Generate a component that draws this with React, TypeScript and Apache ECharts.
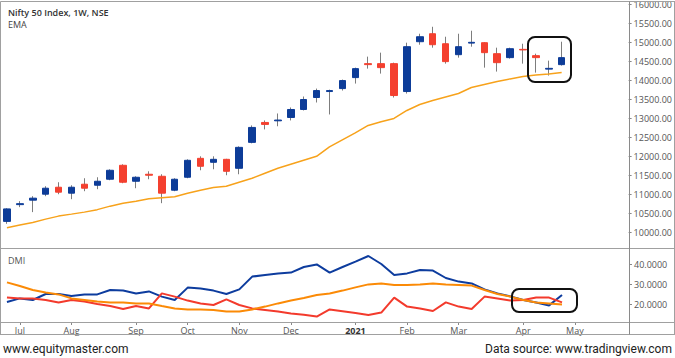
import React, { useEffect, useRef } from "react";
import * as echarts from "echarts";

// Weekly bars (week start dates); the last five slots are empty space to the right
const weeks = [
  "2020-06-29", "2020-07-06", "2020-07-13", "2020-07-20", "2020-07-27",
  "2020-08-03", "2020-08-10", "2020-08-17", "2020-08-24", "2020-08-31",
  "2020-09-07", "2020-09-14", "2020-09-21", "2020-09-28", "2020-10-05",
  "2020-10-12", "2020-10-19", "2020-10-26", "2020-11-02", "2020-11-09",
  "2020-11-16", "2020-11-23", "2020-11-30", "2020-12-07", "2020-12-14",
  "2020-12-21", "2020-12-28", "2021-01-04", "2021-01-11", "2021-01-18",
  "2021-01-25", "2021-02-01", "2021-02-08", "2021-02-15", "2021-02-22",
  "2021-03-01", "2021-03-08", "2021-03-15", "2021-03-22", "2021-03-29",
  "2021-04-05", "2021-04-12", "2021-04-19", "2021-04-26",
  "2021-05-03", "2021-05-10", "2021-05-17", "2021-05-24", "2021-05-31",
];

// [open, close, low, high]
const candles: [number, number, number, number][] = [
  [10294, 10622, 10230, 10640],
  [10735, 10760, 10669, 10826],
  [10852, 10905, 10538, 10957],
  [11009, 11167, 10957, 11219],
  [11193, 11062, 11009, 11324],
  [11036, 11193, 10878, 11245],
  [11272, 11167, 11088, 11429],
  [11245, 11350, 11141, 11455],
  [11403, 11639, 11377, 11665],
  [11770, 11324, 11298, 11796],
  [11350, 11455, 11167, 11481],
  [11534, 11508, 11403, 11612],
  [11481, 11036, 10773, 11534],
  [11114, 11403, 11088, 11430],
  [11455, 11901, 11429, 11927],
  [11953, 11744, 11639, 12006],
  [11849, 11927, 11665, 12006],
  [11927, 11612, 11508, 11940],
  [11691, 12242, 11534, 12268],
  [12373, 12766, 12347, 12819],
  [12897, 12845, 12714, 12950],
  [12940, 12960, 12797, 13133],
  [13028, 13238, 12950, 13291],
  [13238, 13500, 13212, 13579],
  [13553, 13736, 13422, 13788],
  [13710, 13736, 13107, 13760],
  [13788, 13999, 13736, 14025],
  [14077, 14313, 13920, 14339],
  [14444, 14418, 14313, 14628],
  [14444, 14339, 14182, 14733],
  [14444, 13605, 13553, 14470],
  [13710, 14890, 13657, 14995],
  [15021, 15152, 14942, 15231],
  [15231, 14942, 14864, 15414],
  [14968, 14497, 14444, 15152],
  [14680, 14890, 14602, 15231],
  [14985, 15005, 14890, 15310],
  [14995, 14733, 14339, 15005],
  [14706, 14470, 14235, 14864],
  [14602, 14837, 14576, 14864],
  [14820, 14805, 14444, 14968],
  [14654, 14602, 14208, 14706],
  [14300, 14320, 14130, 14523],
  [14418, 14602, 14392, 15021],
];

const ema = [
  10126, 10197, 10267, 10354, 10433, 10485, 10538, 10603, 10695, 10773,
  10826, 10891, 10918, 10944, 11036, 11114, 11185, 11219, 11324, 11429,
  11560, 11691, 11796, 11901, 12006, 12252, 12438, 12622, 12819, 12916,
  13002, 13212, 13369, 13474, 13566, 13658, 13815, 13894, 13972, 14043,
  14103, 14143, 14174, 14208,
];

const diPlus = [
  21, 22.8, 22, 25, 25, 24, 24.8, 24.8, 27, 26.7,
  25.3, 26.3, 23.7, 22, 28.2, 27.8, 26.7, 25, 27.3, 33.7,
  34.5, 35.3, 35.7, 38.5, 39.8, 35.7, 38.5, 41.2, 44, 40,
  34.5, 35.3, 37, 36.7, 33, 31.2, 30.3, 27.3, 25.3, 23.8,
  22, 20.7, 19.3, 24.5,
];

const diMinus = [
  23.3, 22.8, 22.8, 22, 20.8, 22, 21.2, 20, 19, 17.5,
  19, 17.8, 25.3, 23.7, 21.7, 20.3, 19.5, 22.3, 19.5, 17.8,
  17, 16.2, 15.3, 14.6, 13.7, 17.3, 16.4, 15.5, 14.5, 15.7,
  23.2, 18.7, 17.8, 16.5, 20.8, 18.7, 17.5, 23.7, 22.8, 21.7,
  22, 23.3, 23.2, 20.8,
];

const adx = [
  30.8, 29, 27, 25.7, 24.8, 22.8, 22, 21.2, 20.8, 20.7,
  20.3, 20.3, 19, 17.8, 17.3, 17.3, 17, 16.2, 16.2, 17.3,
  18.7, 20.3, 21.7, 23, 24.5, 25.3, 26.7, 28.3, 29.8, 30.3,
  29.5, 29.5, 29.8, 30.3, 29.8, 29.5, 29.2, 27, 25, 23.7,
  22, 20.8, 20.3, 19.8,
];

const priceTicks = [10000, 10500, 11000, 11500, 12000, 12500, 13000, 13500, 14000, 14500, 15000, 15500, 16000];
const dmiTicks = [20, 30, 40];
const monthTickIndex = [1, 5, 10, 14, 18, 22, 27, 31, 35, 40, 44];
const monthTickText = ["Jul", "Aug", "Sep", "Oct", "Nov", "Dec", "2021", "Feb", "Mar", "Apr", "May"];

const BLUE = "#0d3c98";
const RED = "#f4402f";
const WICK = "#7d7d7d";
const FRAME = "#a0a0a0";
const FONT = "'Open Sans', 'Noto Sans', sans-serif";

export default function App() {
  const ref = useRef<HTMLDivElement>(null);

  useEffect(() => {
    if (!ref.current) return;
    const chart = echarts.init(ref.current, null, { renderer: "svg" });

    const wickData = candles.map(([o, c, l, h]) => [o, c, l, h]);
    const bodyData = candles.map(([o, c]) => [o, c, Math.min(o, c), Math.max(o, c)]);

    const line = (x1: number, y1: number, x2: number, y2: number, color = FRAME) => ({
      type: "line",
      silent: true,
      z: 50,
      shape: { x1, y1, x2, y2 },
      style: { stroke: color, lineWidth: 1 },
    });

    const option: any = {
      animation: false,
      backgroundColor: "#ffffff",
      grid: [
        { left: 0.5, top: 2, width: 632.5, height: 246 },
        { left: 0.5, top: 248, width: 632.5, height: 74 },
      ],
      xAxis: [
        { type: "category", gridIndex: 0, data: weeks, boundaryGap: true, show: false },
        {
          type: "category",
          gridIndex: 1,
          data: weeks,
          boundaryGap: true,
          axisLine: { show: false },
          splitLine: { show: false },
          axisTick: {
            show: true,
            alignWithLabel: true,
            length: 3,
            interval: (i: number) => monthTickIndex.includes(i),
            lineStyle: { color: "#888" },
          },
          axisLabel: {
            margin: 4,
            fontSize: 9,
            color: "#555",
            fontFamily: FONT,
            interval: (i: number) => monthTickIndex.includes(i),
            formatter: (_v: string, i: number) => {
              const k = monthTickIndex.indexOf(i);
              if (k < 0) return "";
              const t = monthTickText[k];
              return t === "2021" ? "{b|" + t + "}" : t;
            },
            rich: { b: { fontWeight: "bold", fontSize: 9, color: "#333", fontFamily: FONT } },
          },
        },
      ],
      yAxis: [
        {
          type: "value",
          gridIndex: 0,
          position: "right",
          offset: -4,
          min: 9594,
          max: 16042,
          splitLine: { show: false },
          axisLine: { show: false },
          axisTick: { show: true, length: 3, customValues: priceTicks, lineStyle: { color: "#888" } },
          axisLabel: {
            margin: 5,
            fontSize: 9,
            lineHeight: 9,
            color: "#555",
            fontFamily: FONT,
            customValues: priceTicks,
            formatter: (v: number) => v.toFixed(2),
          },
        },
        {
          type: "value",
          gridIndex: 1,
          position: "right",
          offset: -4,
          min: 11,
          max: 48,
          splitLine: { show: false },
          axisLine: { show: false },
          axisTick: { show: true, length: 3, customValues: dmiTicks, lineStyle: { color: "#888" } },
          axisLabel: {
            margin: 5,
            fontSize: 9,
            color: "#555",
            fontFamily: FONT,
            customValues: dmiTicks,
            formatter: (v: number) => v.toFixed(4),
          },
        },
      ],
      series: [
        {
          name: "wick",
          type: "candlestick",
          xAxisIndex: 0,
          yAxisIndex: 0,
          data: wickData,
          barWidth: 1,
          silent: true,
          itemStyle: { color: WICK, color0: WICK, borderColor: WICK, borderColor0: WICK, borderWidth: 1 },
        },
        {
          name: "body",
          type: "candlestick",
          xAxisIndex: 0,
          yAxisIndex: 0,
          data: bodyData,
          barWidth: 7,
          silent: true,
          itemStyle: { color: BLUE, color0: RED, borderColor: BLUE, borderColor0: RED, borderWidth: 1 },
        },
        {
          name: "EMA",
          type: "line",
          xAxisIndex: 0,
          yAxisIndex: 0,
          data: ema,
          showSymbol: false,
          silent: true,
          lineStyle: { color: "#f7a21b", width: 1.5 },
        },
        {
          name: "+DI",
          type: "line",
          xAxisIndex: 1,
          yAxisIndex: 1,
          data: diPlus,
          showSymbol: false,
          silent: true,
          lineStyle: { color: "#0d3c9e", width: 2 },
        },
        {
          name: "-DI",
          type: "line",
          xAxisIndex: 1,
          yAxisIndex: 1,
          data: diMinus,
          showSymbol: false,
          silent: true,
          lineStyle: { color: "#f33a2c", width: 2 },
        },
        {
          name: "ADX",
          type: "line",
          xAxisIndex: 1,
          yAxisIndex: 1,
          data: adx,
          showSymbol: false,
          silent: true,
          lineStyle: { color: "#fb8a06", width: 2 },
        },
      ],
      graphic: [
        line(0.5, 1.5, 675, 1.5),
        line(0.5, 1.5, 0.5, 334.5),
        line(674.5, 1.5, 674.5, 334.5),
        line(0, 334.5, 675, 334.5),
        line(0, 248.5, 675, 248.5),
        line(0, 322.5, 675, 322.5),
        line(629.5, 1.5, 629.5, 334.5, "#8a8a8a"),
        {
          type: "rect",
          silent: true,
          z: 60,
          shape: { x: 528, y: 37, width: 43, height: 45, r: 7 },
          style: { fill: "none", stroke: "#111", lineWidth: 2 },
        },
        {
          type: "rect",
          silent: true,
          z: 60,
          shape: { x: 512, y: 289, width: 65, height: 23, r: 7 },
          style: { fill: "none", stroke: "#111", lineWidth: 2 },
        },
        {
          type: "text",
          z: 60,
          x: 8,
          y: 12.5,
          style: { text: "Nifty 50 Index, 1W, NSE", fontSize: 9, lineHeight: 10, fontWeight: 600, fontFamily: FONT, fill: "#333", verticalAlign: "middle" },
        },
        {
          type: "text",
          z: 60,
          x: 8,
          y: 24.5,
          style: { text: "EMA", fontSize: 9, lineHeight: 10, fontFamily: FONT, fill: "#444", verticalAlign: "middle" },
        },
        {
          type: "text",
          z: 60,
          x: 8,
          y: 260,
          style: { text: "DMI", fontSize: 9, fontFamily: FONT, fill: "#555", verticalAlign: "middle" },
        },
        {
          type: "text",
          z: 60,
          x: 3,
          y: 349,
          style: { text: "www.equitymaster.com", fontSize: 12, fontFamily: "Roboto, sans-serif", fill: "#222", verticalAlign: "middle" },
        },
        {
          type: "text",
          z: 60,
          x: 672,
          y: 349,
          style: { text: "Data source: www.tradingview.com", fontSize: 12, fontFamily: "Roboto, sans-serif", fill: "#222", align: "right", verticalAlign: "middle" },
        },
      ],
    };

    chart.setOption(option);
    return () => chart.dispose();
  }, []);

  return (
    <div
      ref={ref}
      style={{ position: "absolute", left: 0, top: 0, width: 675, height: 358, background: "#fff" }}
    />
  );
}
